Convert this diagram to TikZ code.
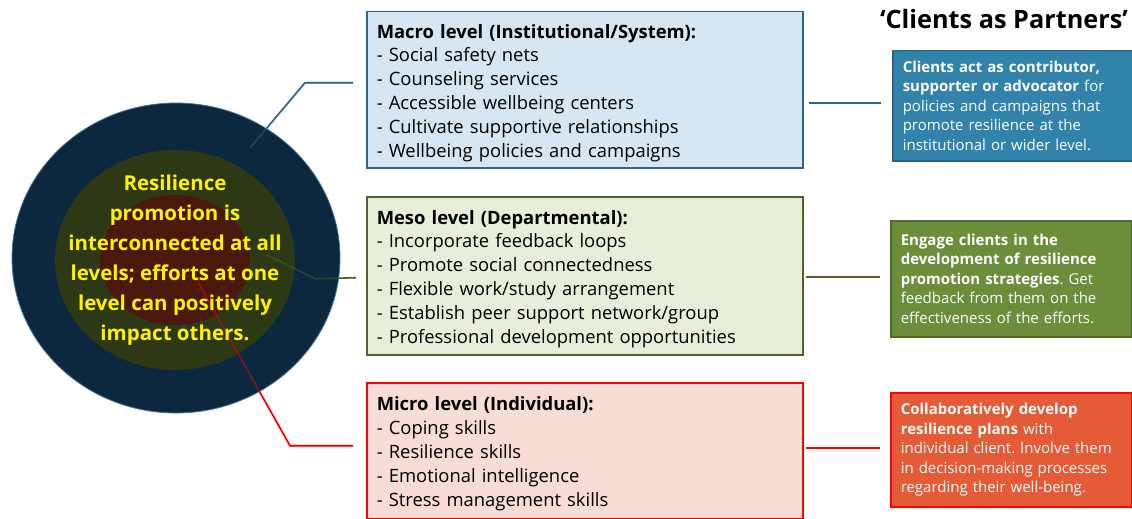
\documentclass[tikz,border=0pt]{standalone}
\usepackage{fontspec}
\setmainfont{Open Sans}
\usetikzlibrary{calc}

\definecolor{macroline}{RGB}{46,102,140}
\definecolor{macrofill}{RGB}{214,230,242}
\definecolor{mesoline}{RGB}{79,98,40}
\definecolor{mesofill}{RGB}{230,239,218}
\definecolor{microline}{RGB}{255,0,0}
\definecolor{microfill}{RGB}{248,220,214}
\definecolor{partblue}{RGB}{49,131,172}
\definecolor{partblueedge}{RGB}{44,96,130}
\definecolor{partgreen}{RGB}{108,142,58}
\definecolor{partgreenedge}{RGB}{80,104,42}
\definecolor{partred}{RGB}{229,91,56}
\definecolor{ringouter}{RGB}{12,40,62}
\definecolor{ringouteredge}{RGB}{70,115,155}
\definecolor{ringmid}{RGB}{45,57,21}
\definecolor{ringinner}{RGB}{74,25,12}

\tikzset{
  levelbox/.style={draw, line width=1.5pt, rectangle, anchor=north west,
    inner xsep=10pt, inner ysep=0pt, text width=416pt, align=left,
    font=\fontsize{18.4}{23.8}\selectfont, text=black},
  partnerbox/.style={draw, line width=1.5pt, rectangle, anchor=north west,
    inner xsep=10pt, inner ysep=0pt, text width=221pt, align=left,
    font=\fontsize{15}{19.6}\selectfont, text=white},
  levellink/.style={line width=1.6pt, line join=miter},
}

% a taller first line pushes the box text slightly down
\newcommand{\toppad}{\rule{0pt}{20pt}}

\newcommand{\levellinks}[1]{%
  \draw[levellink, macroline, #1] (macroin) -- ($(macro.west)+(-61,-7)$) -- ($(macro.west)+(-13,-7)$);
  \draw[levellink, mesoline, #1] (mesoin) -- ($(meso.west)+(-51,3)$) -- ($(meso.west)+(-10,2)$);
  \draw[levellink, microline, #1] (microin) -- ($(micro.west)+(-76,-5)$) -- ($(micro.west)+(-13,-5)$);
}

\begin{document}
\frenchspacing
\begin{tikzpicture}[x=1pt, y=-1pt]
\useasboundingbox (0,0) rectangle (1132,519);

% level boxes
\node[levelbox, draw=macroline, fill=macrofill, minimum height=156pt] (macro) at (366,11)
  {\toppad\textbf{Macro level (Institutional/System):}\\
   - Social safety nets\\
   - Counseling services\\
   - Accessible wellbeing centers\\
   - Cultivate supportive relationships\\
   - Wellbeing policies and campaigns};
\node[levelbox, draw=mesoline, fill=mesofill, minimum height=158pt] (meso) at (366,196)
  {\toppad\textbf{Meso level (Departmental):}\\
   - Incorporate feedback loops\\
   - Promote social connectedness\\
   - Flexible work/study arrangement\\
   - Establish peer support network/group\\
   - Professional development opportunities};
\node[levelbox, draw=microline, fill=microfill, minimum height=136pt] (micro) at (366,382)
  {\toppad\textbf{Micro level (Individual):}\\
   - Coping skills\\
   - Resilience skills\\
   - Emotional intelligence\\
   - Stress management skills};

% clients as partners
\node[font=\fontsize{25.3}{29}\selectfont\bfseries] (title) at (1004,19) {‘Clients as Partners’};
\node[partnerbox, draw=partblueedge, fill=partblue, minimum height=110pt] (cap1) at (892,50)
  {\textbf{Clients act as contributor,}\\
   \textbf{supporter or advocator} for\\
   policies and campaigns that\\
   promote resilience at the\\
   institutional or wider level.};
\node[partnerbox, draw=partgreenedge, fill=partgreen, minimum height=116pt] (cap2) at (890,220)
  {\textbf{Engage clients in the}\\
   \textbf{development of resilience}\\
   \textbf{promotion strategies}. Get\\
   feedback from them on the\\
   effectiveness of the efforts.};
\node[partnerbox, draw=microline, fill=partred, minimum height=114pt] (cap3) at (890,392)
  {\textbf{Collaboratively develop}\\
   \textbf{resilience plans} with\\
   individual client. Involve them\\
   in decision-making processes\\
   regarding their well-being.};

% links from each level to its partner role
\draw[levellink, macroline] ($(macro.east)+(5,13)$) -- ($(cap1.west |- macro.east)+(-11,13)$);
\draw[levellink, mesoline] ($(meso.east)+(2,1)$) -- ($(cap2.west |- meso.east)+(-10,1)$);
\draw[levellink, microline] ($(micro.east)+(2,-3)$) -- ($(cap3.west |- micro.east)+(-10,-3)$);

% inner ends of the level links
\coordinate (macroin) at (250,148);
\coordinate (mesoin) at (267,255);
\coordinate (microin) at (198,282);

\levellinks{}

% nested levels
\fill[ringouter] (176,258) ellipse [x radius=164pt, y radius=155pt];
\draw[ringouteredge, line width=0.8pt] (176,258) ellipse [x radius=164pt, y radius=155pt];
\fill[ringmid] (175,260) ellipse [x radius=120pt, y radius=110pt];
\fill[ringinner] (175,260) ellipse [x radius=75pt, y radius=65pt];

% links seen through the rings
\levellinks{draw opacity=0.45}

\node[align=center, text=yellow, font=\fontsize{20.5}{30}\selectfont\bfseries] (core) at (175,260)
  {Resilience\\ promotion is\\ interconnected at all\\ levels; efforts at one\\ level can positively\\ impact others.};
\end{tikzpicture}
\end{document}
